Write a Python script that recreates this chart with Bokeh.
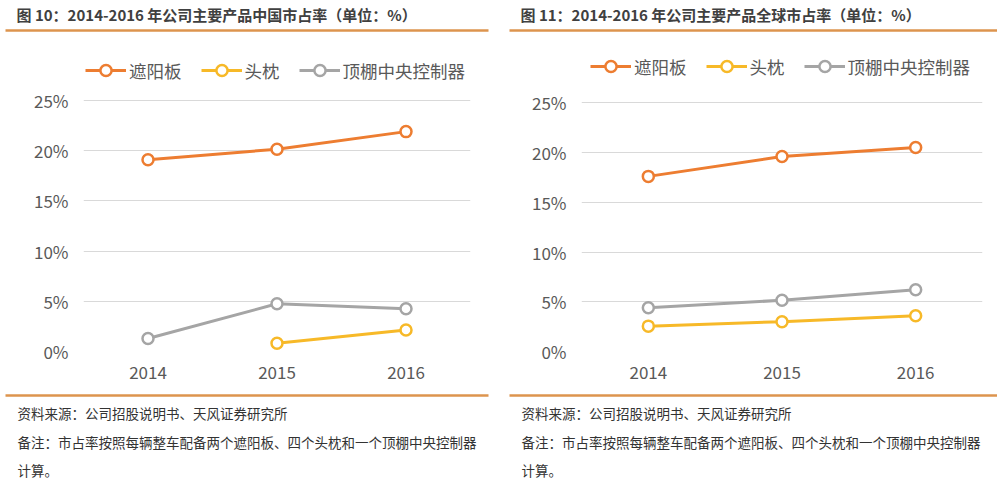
from bokeh.plotting import figure
from bokeh.models import (ColumnDataSource, Range1d, FixedTicker, PrintfTickFormatter,
                          Legend, LegendItem, Label, BoxAnnotation)
from bokeh.layouts import row, column
from bokeh.embed import file_html
from bokeh.resources import INLINE
import numpy as np

years = ["2014", "2015", "2016"]
series_names = ["遮阳板", "头枕", "顶棚中央控制器"]
series_colors = ["#ED7D31", "#F7B928", "#A5A5A5"]

china_sunvisor = [19.1, 20.15, 21.9]
china_headrest = [np.nan, 0.83, 2.15]
china_console = [1.3, 4.75, 4.25]

global_sunvisor = [17.6, 19.6, 20.5]
global_headrest = [2.55, 3.0, 3.6]
global_console = [4.4, 5.15, 6.2]

y_ticks = [0, 5, 10, 15, 20, 25]

title_left = "图 10：2014-2016 年公司主要产品中国市占率（单位：%）"
title_right = "图 11：2014-2016 年公司主要产品全球市占率（单位：%）"
source_text = "资料来源：公司招股说明书、天风证券研究所"
note_line1 = "备注：市占率按照每辆整车配备两个遮阳板、四个头枕和一个顶棚中央控制器"
note_line2 = "计算。"

FONT = "Noto Sans CJK SC"
SEP_COLOR = "#DD944E"
TEXT_COLOR = "#333333"
TOTAL_W = 997


def band(height):
    p = figure(width=TOTAL_W, height=height, x_range=Range1d(0, TOTAL_W),
               y_range=Range1d(height, 0), output_backend="svg", toolbar_location=None,
               min_border=0)
    p.axis.visible = False
    p.grid.visible = False
    p.outline_line_color = None
    return p


def text(p, txt, x, y, size, bold=False, color=TEXT_COLOR):
    p.add_layout(Label(x=x, y=y, text=txt, text_font=FONT, text_font_size=size,
                       text_font_style="bold" if bold else "normal", text_color=color,
                       text_baseline="middle", text_align="left"))


def sep(p, x0, x1, y):
    p.add_layout(BoxAnnotation(left=x0, right=x1, top=y - 1.2, bottom=y + 1.2,
                               fill_color=SEP_COLOR, fill_alpha=1, line_color=None))


# header band: y 0..40
header = band(40)
text(header, title_left, 16, 14, "15px", bold=True, color="#404040")
text(header, title_right, 520, 14, "15px", bold=True, color="#404040")
sep(header, 5, 488, 30)
sep(header, 509, 1000, 30)

# footer band: y 390..480
FOOT_TOP = 390
footer = band(90)
for x0, x1, tx in ((5, 488, 17), (509, 1000, 521)):
    sep(footer, x0, x1, 395 - FOOT_TOP)
    text(footer, source_text, tx, 412 - FOOT_TOP, "13.5px")
    text(footer, note_line1, tx, 441 - FOOT_TOP, "13.5px")
    text(footer, note_line2, tx, 469 - FOOT_TOP, "13.5px")


def make_panel(values, border_left, frame_w, border_right, y_end, legend_xy, spacing):
    p = figure(frame_width=frame_w, frame_height=306, x_range=years,
               y_range=Range1d(0, y_end), output_backend="svg", toolbar_location=None,
               min_border_left=border_left, min_border_right=border_right,
               min_border_top=5, min_border_bottom=39)
    p.outline_line_color = None
    p.x_range.range_padding = 0
    p.xgrid.grid_line_color = None
    p.ygrid.grid_line_color = "#D9D9D9"
    p.ygrid.grid_line_width = 1
    p.yaxis.ticker = FixedTicker(ticks=y_ticks)
    p.yaxis.formatter = PrintfTickFormatter(format="%d%%")
    for ax in (p.xaxis[0], p.yaxis[0]):
        ax.axis_line_color = None
        ax.major_tick_line_color = None
        ax.minor_tick_line_color = None
        ax.major_tick_out = 0
        ax.major_label_text_font = FONT
        ax.major_label_text_font_size = "17px"
        ax.major_label_text_color = "#595959"
    p.yaxis.major_label_standoff = 15
    p.xaxis.major_label_standoff = 14

    items = []
    for name, color, vals in zip(series_names, series_colors, values):
        src = ColumnDataSource(dict(x=years, y=vals))
        l = p.line("x", "y", source=src, line_color=color, line_width=3)
        s = p.scatter("x", "y", source=src, size=11, line_color=color, line_width=2.5,
                      fill_color="white")
        items.append(LegendItem(label=name, renderers=[l, s]))

    legend = Legend(items=items, orientation="horizontal", location=legend_xy,
                    padding=0, margin=0, spacing=spacing, glyph_width=41, glyph_height=28,
                    label_height=28, label_standoff=3, border_line_color=None,
                    background_fill_alpha=0,
                    label_text_font=FONT, label_text_font_size="17.5px",
                    label_text_color="#595959")
    p.add_layout(legend, "center")
    return p


# chart row: y 40..390; frame y 45..351
left = make_panel([china_sunvisor, china_headrest, china_console],
                  border_left=83, frame_w=387, border_right=32, y_end=306 / 10.04,
                  legend_xy=(2, 351 - 84), spacing=19)
right = make_panel([global_sunvisor, global_headrest, global_console],
                   border_left=79, frame_w=401, border_right=15, y_end=306 / 9.95,
                   legend_xy=(9, 351 - 80), spacing=19)

layout = column(header, row(left, right), footer)
open("out.html", "w").write(file_html(layout, INLINE))
